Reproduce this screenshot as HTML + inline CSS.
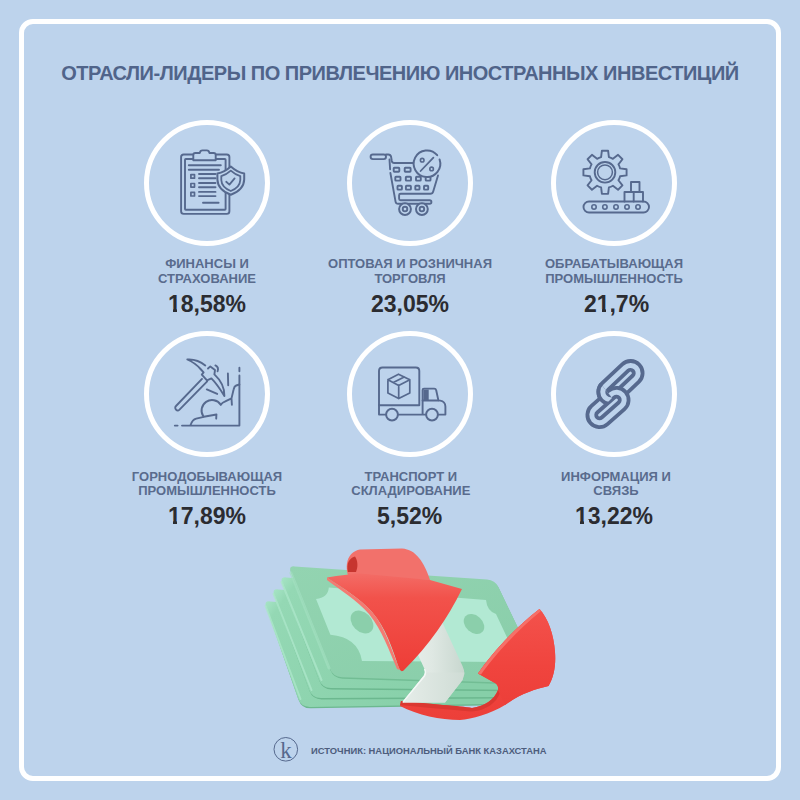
<!DOCTYPE html>
<html><head><meta charset="utf-8">
<style>
*{margin:0;padding:0;box-sizing:border-box}
html,body{width:800px;height:800px;overflow:hidden}
body{background:#bdd3ec;font-family:"Liberation Sans",sans-serif;position:relative}
.frame{position:absolute;left:18.5px;top:18.5px;width:762.6px;height:762.9px;border:5.4px solid #fff;border-radius:14px}
.title{position:absolute;left:0;width:800px;top:61px;text-align:center;font-weight:bold;font-size:20px;line-height:24px;color:#50648a;letter-spacing:-0.48px;white-space:nowrap}
.ring{position:absolute;width:126px;height:126px;border:5.2px solid #fff;border-radius:50%}
.lab{position:absolute;width:240px;text-align:center;font-weight:bold;font-size:13px;line-height:14.4px;color:#596b8d;white-space:nowrap}
.num{position:absolute;width:240px;text-align:center;font-weight:bold;font-size:23px;line-height:26px;color:#2b2c31;white-space:nowrap}
.src{position:absolute;left:311px;top:743.9px;font-weight:bold;font-size:9.4px;line-height:14px;color:#4d5d7d;white-space:nowrap}
svg{position:absolute;left:0;top:0}
.one{position:relative}
.one::before,.one::after{content:"";position:absolute;bottom:4.6px;height:3.6px;background:#bdd3ec}
.one::before{left:0.4px;width:5px}
.one::after{left:9.05px;width:4.8px}
</style></head><body>
<div class="frame"></div>
<div class="title">ОТРАСЛИ-ЛИДЕРЫ ПО ПРИВЛЕЧЕНИЮ ИНОСТРАННЫХ ИНВЕСТИЦИЙ</div>

<div class="ring" style="left:144.2px;top:119.5px"></div>
<div class="ring" style="left:347px;top:119.5px"></div>
<div class="ring" style="left:551px;top:119.5px"></div>
<div class="ring" style="left:144.2px;top:331px"></div>
<div class="ring" style="left:347px;top:331px"></div>
<div class="ring" style="left:551px;top:331px"></div>

<div class="lab" style="left:87px;top:257.2px">ФИНАНСЫ И<br>СТРАХОВАНИЕ</div>
<div class="lab" style="left:290px;top:257.2px">ОПТОВАЯ И РОЗНИЧНАЯ<br>ТОРГОВЛЯ</div>
<div class="lab" style="left:494px;top:257.2px">ОБРАБАТЫВАЮЩАЯ<br>ПРОМЫШЛЕННОСТЬ</div>
<div class="num" style="left:87px;top:290.7px"><span class="one">1</span>8,58%</div>
<div class="num" style="left:290px;top:290.7px">23,05%</div>
<div class="num" style="left:496.5px;top:290.7px">2<span class="one">1</span>,7%</div>

<div class="lab" style="left:87px;top:470px">ГОРНОДОБЫВАЮЩАЯ<br>ПРОМЫШЛЕННОСТЬ</div>
<div class="lab" style="left:290.8px;top:470px">ТРАНСПОРТ И<br>СКЛАДИРОВАНИЕ</div>
<div class="lab" style="left:496px;top:470px">ИНФОРМАЦИЯ И<br>СВЯЗЬ</div>
<div class="num" style="left:87px;top:502.6px"><span class="one">1</span>7,89%</div>
<div class="num" style="left:289.6px;top:502.6px">5,52%</div>
<div class="num" style="left:494px;top:502.6px"><span class="one">1</span>3,22%</div>

<div class="src">ИСТОЧНИК: НАЦИОНАЛЬНЫЙ БАНК КАЗАХСТАНА</div>

<svg width="800" height="800" viewBox="0 0 800 800">
<defs>
<linearGradient id="rimg" x1="0" y1="0" x2="1" y2="0.35"><stop offset="0" stop-color="#a6e4c5"/><stop offset="0.07" stop-color="#94d8b4"/><stop offset="1" stop-color="#86cfa8"/></linearGradient>
<linearGradient id="faceg" x1="0" y1="0" x2="1" y2="1"><stop offset="0" stop-color="#93d4b1"/><stop offset="1" stop-color="#88cda9"/></linearGradient>
<linearGradient id="redA" x1="0" y1="0" x2="0" y2="1"><stop offset="0" stop-color="#f36c66"/><stop offset="0.25" stop-color="#f2524b"/><stop offset="1" stop-color="#ee3d37"/></linearGradient>
<linearGradient id="redB" x1="0" y1="0" x2="0" y2="1"><stop offset="0" stop-color="#f3524c"/><stop offset="0.6" stop-color="#f0443e"/><stop offset="1" stop-color="#ec3f39"/></linearGradient>
<linearGradient id="bandg" x1="0" y1="0" x2="1" y2="0"><stop offset="0" stop-color="#eef3f0"/><stop offset="0.55" stop-color="#dfe8e3"/><stop offset="1" stop-color="#c8d7cf"/></linearGradient>
<linearGradient id="bandf" x1="0" y1="0" x2="1" y2="0"><stop offset="0" stop-color="#e6ede9"/><stop offset="1" stop-color="#cfdcd5"/></linearGradient>
</defs>
<path d="M266.6,608.1 Q264.6,602.4 270.6,602.8 L463.6,615.9 Q471.6,616.4 473.6,624.1 L492.3,696.7 Q494.6,705.4 485.6,705.5 L310.6,708.3 Q301.6,708.4 298.6,699.9 Z" fill="#6cb88f"/>
<path d="M266.0,606.7 Q264.0,601.0 270.0,601.4 L463.0,614.5 Q471.0,615.0 473.0,622.7 L491.7,695.3 Q494.0,704.0 485.0,704.1 L310.0,706.9 Q301.0,707.0 298.0,698.5 Z" fill="url(#rimg)"/>
<path d="M265.6,606.0 L300.5,699.0" stroke="#ace7ca" stroke-width="2" stroke-linecap="round" opacity="0.8"/>
<path d="M274.7,596.0 Q272.6,590.4 278.6,590.8 L471.6,603.9 Q479.6,604.4 482.0,612.0 L505.9,689.8 Q508.6,698.4 499.6,698.4 L321.6,699.4 Q312.6,699.4 309.5,691.0 Z" fill="#6cb88f"/>
<path d="M274.1,594.6 Q272.0,589.0 278.0,589.4 L471.0,602.5 Q479.0,603.0 481.4,610.6 L505.3,688.4 Q508.0,697.0 499.0,697.0 L321.0,698.0 Q312.0,698.0 308.9,689.6 Z" fill="url(#rimg)"/>
<path d="M273.6,594.0 L311.5,690.0" stroke="#ace7ca" stroke-width="2" stroke-linecap="round" opacity="0.8"/>
<path d="M282.7,584.0 Q280.6,578.4 286.6,578.8 L479.6,591.9 Q487.6,592.4 490.3,599.9 L519.6,682.9 Q522.6,691.4 513.6,691.3 L331.6,689.5 Q322.6,689.4 319.4,681.0 Z" fill="#6cb88f"/>
<path d="M282.1,582.6 Q280.0,577.0 286.0,577.4 L479.0,590.5 Q487.0,591.0 489.7,598.5 L519.0,681.5 Q522.0,690.0 513.0,689.9 L331.0,688.1 Q322.0,688.0 318.8,679.6 Z" fill="url(#rimg)"/>
<path d="M281.6,582.0 L321.5,680.0" stroke="#ace7ca" stroke-width="2" stroke-linecap="round" opacity="0.8"/>
<path d="M291.3,573.1 Q289.1,567.5 295.1,567.9 L487.6,581.0 Q495.6,581.5 499.1,588.7 L541.7,677.4 Q545.6,685.5 536.6,685.2 L342.6,678.8 Q333.6,678.5 330.3,670.1 Z" fill="#72bd94"/>
<path d="M290.7,571.6 Q288.5,566.0 294.5,566.4 L487.0,579.5 Q495.0,580.0 498.5,587.2 L541.1,675.9 Q545.0,684.0 536.0,683.7 L342.0,677.3 Q333.0,677.0 329.7,668.6 Z" fill="url(#faceg)"/>
<path d="M291,573 L329,668" stroke="#a2e0c0" stroke-width="3" stroke-linecap="round" opacity="0.7"/>
<path d="M316,599 Q328,598 328.8,587.6 L486,600 Q487,611 496,614 L513,650 Q505,652 507,662 L362,661 Q358,637 330.4,634.8 Z" fill="#b2e9d3"/>
<ellipse cx="362" cy="622" rx="13" ry="9.5" transform="rotate(45 362 622)" fill="#8bcfab"/>
<ellipse cx="474" cy="624" rx="11.5" ry="8.5" transform="rotate(42 474 624)" fill="#8bcfab"/>
<path d="M539.5,609 C548,618 554,635 555,652 C556,665 554,677 548.5,686 C535,689 520,694 505,705 C490,714 472,719 460,720 C440,720 418,715 400,706 L401,701 C430,704 460,706 472,708 C485,706 494,700 498,690 C499,686 496,683 494,682.5 L478,673.5 C490,656 510,632 539.5,609 Z" fill="url(#redB)"/>
<path d="M401,701 C430,704 460,706 472,708 C485,706 494,700 498,690 L500,693 C496,703 487,710 472,711.5 C455,710 428,708 400,705 Z" fill="#d63630" opacity="0.8"/>
<path d="M393,600 L432,600 L462.5,666 Q464.4,670 464.4,674 L462.5,680 L445,702.5 L402.5,702.5 L424,675.5 Q426,672.5 424.5,669 Z" fill="url(#bandg)"/>
<path d="M426,672.5 L464.4,672.5 L462.5,680 L445,702.5 L402.5,702.5 Z" fill="url(#bandf)"/>
<path d="M424.5,669 Q426.5,672.5 424.5,676 L403,702" stroke="#f6faf8" stroke-width="1.4" fill="none" opacity="0.9"/>
<path d="M349,578 C344,566 347,552 360,549.5 L402,548.5 C416,549.5 424,562 430,580 Z" fill="#f2716b"/>
<path d="M348,572 C346,564 349,558 355,556.5 C358,561 358,567 356,572 Z" fill="#c7352f"/>
<path d="M327,577.5 C340,575 350,574.5 360,573.5 L430,580 L462,589 Q440.3,633.8 405,669 Q401,674 399,668 C392,648 386,628 372,612 C360,598 342,588 327,577.5 Z" fill="url(#redA)"/>
<path d="M327,577.5 C342,588 360,598 372,612 C386,628 392,652 400,670 L397,669 C389,650 382,630 369,614 C357,600 340,590 327,580 Z" fill="#f47a72"/>
<path d="M539.5,609 C548,618 554,635 555,652 C556,665 554,677 548.5,686 C535,689 520,694 505,705 L498,690 C499,686 496,683 494,682.5 L478,673.5 C490,656 510,632 539.5,609 Z" fill="url(#redB)"/>
<path d="M478,673.5 C490,656 510,632 539.5,609 L541,611 C514,633 494,657 481,674.5 Z" fill="#f57069"/>
<g fill="none" stroke="#56698e" stroke-width="1.9" stroke-linecap="round" stroke-linejoin="round">
<!-- clipboard -->
<rect x="181.1" y="154.5" width="48.3" height="59.4" rx="2.6"/>
<rect x="185" y="159" width="40.6" height="50.7" rx="0.8"/>
<path d="M193.3,160.3 L193.3,155 Q193.3,153 195.3,153 L199.7,153 Q200.2,150.4 202.4,150.4 L206.8,150.4 Q209,150.4 209.5,153 L213.7,153 Q215.7,153 215.7,155 L215.7,160.3 Z" fill="#bdd3ec"/>
<path d="M188.8,165.2 L220.8,165.2 M188.8,169.8 L219,169.8 M199,174 L215.5,174 M199,178.3 L215.5,178.3 M199,183 L215.5,183 M199,187.2 L215.5,187.2 M199,191.9 L215.5,191.9 M199,196.1 L215.5,196.1 M203,202.7 L218.6,202.7"/>
<rect x="190.9" y="174.6" width="3.6" height="3.6" stroke-width="1.7"/>
<rect x="190.9" y="183.5" width="3.6" height="3.6" stroke-width="1.7"/>
<rect x="190.9" y="192.4" width="3.6" height="3.6" stroke-width="1.7"/>
<path d="M230.8,166.6 C226.5,170.5 222,172.8 217.4,173.6 L217.4,179.5 C217.6,186.5 223,191.8 230.8,194.8 C238.6,191.8 244,186.5 244.2,179.5 L244.2,173.6 C239.6,172.8 235.1,170.5 230.8,166.6 Z" fill="#bdd3ec" stroke-width="2"/>
<path d="M230.8,170.6 C227.8,173.3 224.6,175.2 221.3,176.1 L221.3,180 C221.5,185 225,188.7 230.8,191 C236.6,188.7 240.1,185 240.3,180 L240.3,176.1 C237,175.2 233.8,173.3 230.8,170.6 Z" stroke-width="1.8"/>
<path d="M226.2,181.8 L229.4,184.6 L234.6,178.4" stroke-width="1.8"/>

<!-- cart -->
<rect x="370.6" y="154.5" width="15.4" height="4.6" rx="2.3"/>
<path d="M386,154.5 L388.3,154.5 Q390.6,154.5 391.1,156.8 L391.8,161 Q392.2,163 394.2,163 L414,163"/>
<path d="M389.5,159.5 L390.1,169.3 M390.4,173 L395.6,201.8 Q396,203.8 398.2,203.8 L429.6,203.8 Q431.4,203.8 431.4,202 Q431.4,200.2 429.6,200.2 L400.6,200.2 Q399.1,200.2 399.1,198.7 L399.1,195.3 Q399.1,193.8 400.6,193.8 L430.3,193.8 Q432.6,193.8 433.2,191.5 L438,175.5"/>
<g stroke-width="1.9">
<rect x="393.7" y="167.8" width="5.6" height="3.9" rx="0.7"/><rect x="404.7" y="167.8" width="5.9" height="3.9" rx="0.7"/>
<rect x="395.3" y="176.7" width="5.2" height="3.9" rx="0.7"/><rect x="405.8" y="176.7" width="5.2" height="3.9" rx="0.7"/><rect x="416.0" y="176.7" width="4.8" height="3.9" rx="0.7"/><rect x="425.7" y="176.7" width="4.8" height="3.9" rx="0.7"/>
<rect x="397.5" y="185.7" width="4.4" height="3.9" rx="0.7"/><rect x="405.9" y="185.7" width="5.0" height="3.9" rx="0.7"/><rect x="415.3" y="185.7" width="4.2" height="3.9" rx="0.7"/><rect x="424.0" y="185.7" width="4.2" height="3.9" rx="0.7"/>
</g>
<circle cx="427.2" cy="164" r="13.3" fill="#bdd3ec" stroke="none"/>
<path d="M437.2,155.2 A13.3,13.3 0 1 0 439.6,159.5" stroke-width="2"/>
<circle cx="422.2" cy="160.2" r="1.8" stroke-width="1.6"/>
<circle cx="431.6" cy="168.9" r="1.8" stroke-width="1.6"/>
<path d="M433.4,157.6 L420.6,171" stroke-width="1.8"/>
<circle cx="405" cy="209.1" r="5.9" fill="#bdd3ec" stroke-width="2"/>
<circle cx="405" cy="209.1" r="2.3" stroke-width="1.9"/>
<circle cx="421.9" cy="209.1" r="5.9" fill="#bdd3ec" stroke-width="2"/>
<circle cx="421.9" cy="209.1" r="2.3" stroke-width="1.9"/>

<!-- gear -->
<path d="M601.10,157.20 L601.90,150.72 L608.10,150.72 L608.90,157.20 A15.6,15.6 0 0 1 612.92,158.86 L618.07,154.85 L622.45,159.23 L618.44,164.38 A15.6,15.6 0 0 1 620.10,168.40 L626.58,169.20 L626.58,175.40 L620.10,176.20 A15.6,15.6 0 0 1 618.44,180.22 L622.45,185.37 L618.07,189.75 L612.92,185.74 A15.6,15.6 0 0 1 608.90,187.40 L608.10,193.88 L601.90,193.88 L601.10,187.40 A15.6,15.6 0 0 1 597.08,185.74 L591.93,189.75 L587.55,185.37 L591.56,180.22 A15.6,15.6 0 0 1 589.90,176.20 L583.42,175.40 L583.42,169.20 L589.90,168.40 A15.6,15.6 0 0 1 591.56,164.38 L587.55,159.23 L591.93,154.85 L597.08,158.86 A15.6,15.6 0 0 1 601.10,157.20 Z" stroke-width="1.9"/>
<circle cx="605" cy="172.3" r="10.3" stroke-width="1.9"/>
<circle cx="605" cy="172.3" r="7.4" stroke-width="1.5"/>
<rect x="583.5" y="201.5" width="65.5" height="11" rx="5.5"/>
<g stroke-width="1.6"><circle cx="594" cy="207" r="2.2"/><circle cx="604.9" cy="207" r="2.2"/><circle cx="616" cy="207" r="2.2"/><circle cx="627" cy="207" r="2.2"/><circle cx="638" cy="207" r="2.2"/></g>
<path d="M624.5,201.5 L624.5,192 L643,192 L643,201.5 M633.7,192 L633.7,201.5 M631,192 L631,182 L639.5,182 L639.5,192"/>

<!-- pickaxe -->
<path d="M182,425.6 L239.4,425.6 L239.4,375.5 M174.8,425.6 L177.6,425.6 M239.4,367.8 L239.4,371.3"/>
<path d="M203.4,416.5 A9,9 0 1 1 220.7,404.6"/>
<path d="M190.6,425 C191.8,421.5 193.2,419.5 196.2,418.7 L203.8,416.8 L216.5,414.5 M216.4,414.6 L216.2,418.6"/>
<path d="M220.8,404.8 C222,403 223.2,402.3 224.8,401.7 L231.5,398.4 L231.9,404.7 M231.5,398.4 L233.6,389.5 Q234.3,386.2 236.2,385.5 L239.4,384.5"/>
<path d="M227.9,373.4 L228.2,385.2 M206.8,389.4 L217.2,393.9"/>
<path d="M202,378.9 L176,406 A2.5,2.5 0 0 0 179.5,409.6 L207.2,381.4"/>
<path d="M205.3,365.4 C200.5,361.5 194,359 187.3,359.5 C192,361.5 197,365 200.5,369 L203.6,372.4 L201.8,374.6 L207,380.3 L211.4,378.4 C215.5,382.5 219.5,388 224.4,396 C224.6,389 221.5,381 214.4,374.4 L215,370 L210.3,366.4 L208,368.5"/>
<path d="M215.4,365.4 C217.8,366.6 218.5,368.8 217.6,371.3"/>

<!-- truck -->
<path d="M379,405.2 L379,371 Q379,367.5 382.5,367.5 L415.8,367.5 Q419.3,367.5 419.3,371 L419.3,405.2 Z"/>
<path d="M379,405.2 L379,414.6 L445.4,414.6 L445.4,406.5 Q445.2,401.4 440.2,400.6 L438.4,400.4 L436.2,390.2 Q435.8,388.6 434.2,388.6 L424,388.6 Q422.6,388.6 422.6,390 L422.6,414.6"/>
<path d="M422.6,400.5 L438.4,400.5"/>
<rect x="423.4" y="389.5" width="5.3" height="11" fill="#55688d" stroke="none"/>
<circle cx="392" cy="414.6" r="5.9" fill="#bdd3ec" stroke-width="2"/>
<circle cx="432" cy="414.6" r="5.9" fill="#bdd3ec" stroke-width="2"/>
<path d="M398.5,374.2 L409.8,379.7 L409.8,393.1 L398.7,398.6 L387.9,393.1 L387.9,379.7 Z M387.9,379.7 L398.7,385.4 L409.8,379.7 M398.7,385.4 L398.7,398.6 M393.3,382.5 L404.2,377" stroke-width="1.7"/>

<!-- chain -->
<defs><clipPath id="cc"><polygon points="590,370 612,398 590,420"/></clipPath></defs>
<g stroke-linecap="round">
<path d="M630.50,373.10 L610.50,392.00" stroke-width="28.00" stroke="#56698e"/><path d="M630.50,373.10 L610.50,392.00" stroke-width="20.40" stroke="#bdd3ec"/><path d="M630.50,373.10 L610.50,392.00" stroke-width="10.40" stroke="#56698e"/><path d="M630.50,373.10 L610.50,392.00" stroke-width="2.80" stroke="#bdd3ec"/><path d="M599.50,415.00 L616.50,400.00" stroke-width="28.00" stroke="#56698e"/><path d="M599.50,415.00 L616.50,400.00" stroke-width="20.40" stroke="#bdd3ec"/><path d="M599.50,415.00 L616.50,400.00" stroke-width="10.40" stroke="#56698e"/><path d="M599.50,415.00 L616.50,400.00" stroke-width="2.80" stroke="#bdd3ec"/><g clip-path="url(#cc)"><path d="M630.50,373.10 L610.50,392.00" stroke-width="28.00" stroke="#56698e"/><path d="M630.50,373.10 L610.50,392.00" stroke-width="20.40" stroke="#bdd3ec"/><path d="M630.50,373.10 L610.50,392.00" stroke-width="10.40" stroke="#56698e"/><path d="M630.50,373.10 L610.50,392.00" stroke-width="2.80" stroke="#bdd3ec"/></g>
</g>
</g>
<circle cx="285.8" cy="749.3" r="11.8" fill="none" stroke="#56698e" stroke-width="1"/>
<text x="280.3" y="757.6" font-family="Liberation Serif" font-size="23" fill="#56698e">k</text>
</svg>
</body></html>
